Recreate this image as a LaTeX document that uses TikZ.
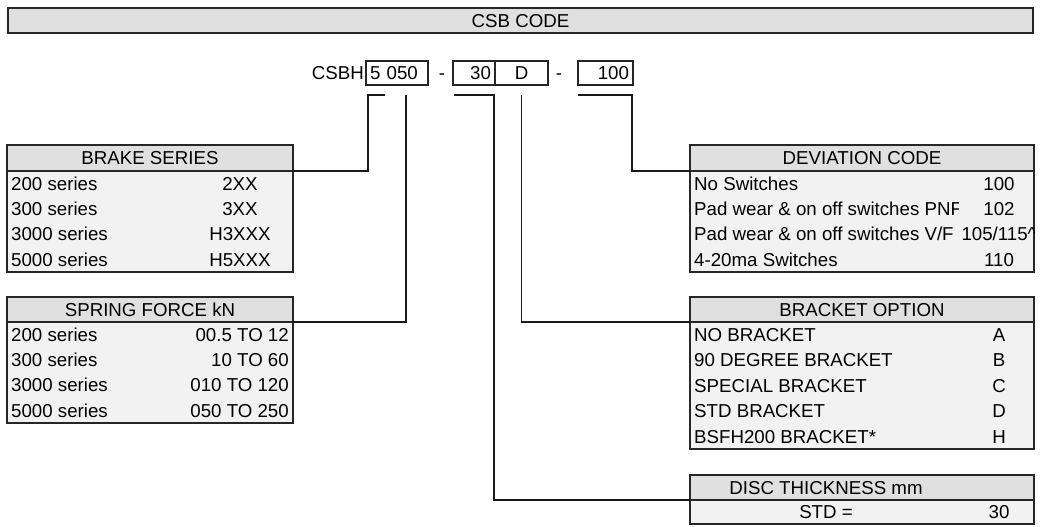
\documentclass[tikz,border=0pt]{standalone}
\usepackage{fontspec}
\setmainfont{Liberation Sans}
\usepackage{tikz}
\usetikzlibrary{positioning, calc}

\definecolor{hdrgray}{HTML}{E0E0E0}
\definecolor{cellgray}{HTML}{F2F2F2}

\begin{document}
\begin{tikzpicture}[
  x=1pt, y=-1pt,
  every node/.style={font=\fontsize{18.7}{22}\selectfont},
  hdr/.style={
    rectangle, draw=black!85, line width=1.2pt, fill=hdrgray,
    inner sep=0pt, outer sep=0pt, text height=13.4pt, text depth=0pt,
  },
  body/.style={
    rectangle, draw=black!85, line width=1.2pt, fill=cellgray,
    inner sep=0pt, outer sep=0pt, minimum width=#1,
  },
  codebox/.style={
    rectangle, draw=black!85, line width=1.2pt, fill=white,
    minimum height=24pt, inner xsep=4pt, inner ysep=0pt, outer sep=0pt,
    text height=13.4pt, text depth=0pt,
  },
  rowtxt/.style={anchor=west, inner sep=0pt, text height=13.4pt, text depth=0pt},
  valtxt/.style={inner sep=0pt, text height=13.4pt, text depth=0pt},
  link/.style={draw=black!90, line width=1.2pt},
]
\useasboundingbox (0,0) rectangle (1041,527);

% Title bar
\node[hdr, minimum width=1025pt, minimum height=25pt] (title) at (520.5,20.5) {CSB CODE};

% Code line
\node[codebox, text width=54pt, align=left] (codeA) at (397,73) {5 050};
\node[left=2pt of codeA, inner sep=0pt, text height=13.4pt, text depth=0pt] (prefix) {CSBH};
\node[valtxt] (dash1) at (442,73) {-};
\node[codebox, text width=34pt, align=right] (codeB) at (474,73) {30};
\node[codebox, text width=45pt, align=center, right=0pt of codeB] (codeC) {D};
\node[valtxt] (dash2) at (559,73) {-};
\node[codebox, text width=47pt, align=right] (codeD) at (605.5,73) {100};

% Tables, left side
\node[hdr, minimum width=286pt, minimum height=26pt] (brakeH) at (150,158) {BRAKE SERIES};
\node[body=286pt, minimum height=101pt, below=0pt of brakeH] (brakeB) {};
\foreach \lab/\val [count=\i from 0] in {200 series/2XX, 300 series/3XX,
    3000 series/H3XXX, 5000 series/H5XXX} {
  \node[rowtxt] (brakeL\i) at ($(brakeB.north west)+(4,12.6+25.25*\i)$) {\lab};
  \node[valtxt] (brakeV\i) at ($(brakeB.north west)+(233,12.6+25.25*\i)$) {\val};
}

\node[hdr, minimum width=286pt, minimum height=25pt] (springH) at (150,309.5) {SPRING FORCE kN};
\node[body=286pt, minimum height=101pt, below=0pt of springH] (springB) {};
\foreach \lab/\val [count=\i from 0] in {200 series/00.5 TO 12, 300 series/10 TO 60,
    3000 series/010 TO 120, 5000 series/050 TO 250} {
  \node[rowtxt] (springL\i) at ($(springB.north west)+(4,12.6+25.25*\i)$) {\lab};
  \node[valtxt, anchor=east] (springV\i) at ($(springB.north west)+(282,12.6+25.25*\i)$) {\val};
}

% Tables, right side
\node[hdr, minimum width=344pt, minimum height=26pt] (devH) at (862,158) {DEVIATION CODE};
\node[body=344pt, minimum height=101pt, below=0pt of devH] (devB) {};
\begin{scope}
  \clip (devB.north west) rectangle (devB.south east);
  \foreach \val [count=\i from 0] in {100, 102, 105/115\symbol{94}, 110} {
    \node[valtxt] (devV\i) at ($(devB.north west)+(309,12.6+25.25*\i)$) {\val};
  }
  \begin{scope}
    \clip (devB.north west) rectangle ($(devB.south west)+(268,0)$);
    \foreach \lab [count=\i from 0] in {No Switches, Pad wear \& on off switches PNF,
        Pad wear \& on off switches V/F, 4-20ma Switches} {
      \node[rowtxt] (devL\i) at ($(devB.north west)+(4,12.6+25.25*\i)$) {\lab};
    }
  \end{scope}
\end{scope}

\node[hdr, minimum width=344pt, minimum height=25pt] (brkH) at (862,309.5) {BRACKET OPTION};
\node[body=344pt, minimum height=127pt, below=0pt of brkH] (brkB) {};
\foreach \lab/\val [count=\i from 0] in {NO BRACKET/A, 90 DEGREE BRACKET/B,
    SPECIAL BRACKET/C, STD BRACKET/D, BSFH200 BRACKET*/H} {
  \node[rowtxt] (brkL\i) at ($(brkB.north west)+(4,12.7+25.4*\i)$) {\lab};
  \node[valtxt] (brkV\i) at ($(brkB.north west)+(309,12.7+25.4*\i)$) {\val};
}

\node[hdr, minimum width=344pt, minimum height=25pt] (discH) at (862,487.5) {};
\node[valtxt] (discT) at ($(discH.west)+(136,0)$) {DISC THICKNESS mm};
\node[body=344pt, minimum height=24pt, below=0pt of discH] (discB) {};
\node[valtxt] (discL) at ($(discB.west)+(136,0)$) {STD =};
\node[valtxt] (discV) at ($(discB.west)+(309,0)$) {30};

% Leader lines from the code boxes
\coordinate (armA)  at ([xshift=19pt,yshift=-10pt]codeA.south west);
\coordinate (tickA) at ([xshift=40pt,yshift=-10pt]codeA.south west);
\coordinate (armB)  at ([xshift=1pt,yshift=-10pt]codeB.south west);
\coordinate (tickC) at ([yshift=-10pt]codeC.south);
\coordinate (armD)  at ([yshift=-10pt]codeD.south west);

\draw[link] (armA) -- ++(-17,0) |- (brakeH.south east);
\draw[link] (tickA) |- (springH.south east);
\draw[link] (armB) -- ++(40,0) |- (discH.south west);
\draw[link] (tickC) |- (brkH.south west);
\draw[link] (armD) -- ++(54,0) |- (devH.south west);

\end{tikzpicture}
\end{document}
